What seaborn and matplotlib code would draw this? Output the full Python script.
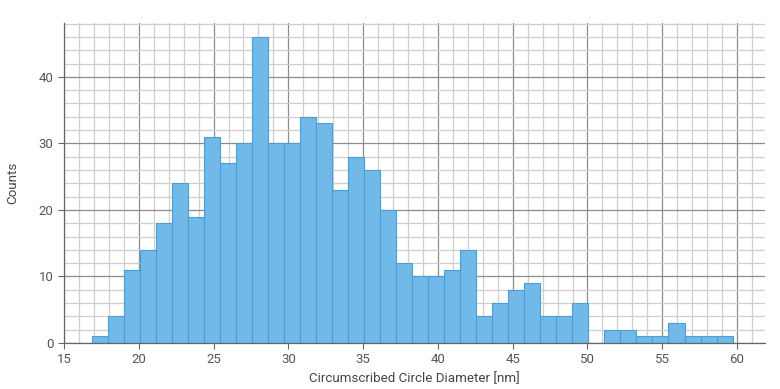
import numpy as np
import pandas as pd
import matplotlib
matplotlib.use("Agg")
import matplotlib.pyplot as plt
from matplotlib.ticker import MultipleLocator
import seaborn as sns

# histogram: 40 bins from 16.87 to 59.70 nm
bin_lo = 16.87
bin_hi = 59.70
counts = [1, 4, 11, 14, 18, 24, 19, 31, 27, 30,
          46, 30, 30, 34, 33, 23, 28, 26, 20, 12,
          10, 10, 11, 14, 4, 6, 8, 9, 4, 4,
          6, 0, 2, 2, 1, 1, 3, 1, 1, 1]

x_label = "Circumscribed Circle Diameter [nm]"
y_label = "Counts"

edges = np.linspace(bin_lo, bin_hi, len(counts) + 1)
centers = (edges[:-1] + edges[1:]) / 2
df = pd.DataFrame({"diameter": centers, "count": counts})

sns.set_theme(style="white")
plt.rcParams["font.family"] = ["Roboto", "DejaVu Sans"]

fig = plt.figure(figsize=(7.8, 3.89), dpi=100)
ax = fig.add_axes([64 / 780, 1 - 343 / 389, (765 - 64) / 780, (343 - 23) / 389])

sns.histplot(data=df, x="diameter", weights="count", bins=edges.tolist(), ax=ax,
             color="#70b9e9", edgecolor="#4a9fd8", linewidth=0.8, alpha=1.0)

ax.set_xlim(15, 61.87)
ax.set_ylim(0, 48.1)
ax.xaxis.set_major_locator(MultipleLocator(5))
ax.xaxis.set_minor_locator(MultipleLocator(1))
ax.yaxis.set_major_locator(MultipleLocator(10))
ax.yaxis.set_minor_locator(MultipleLocator(2))

ax.set_axisbelow(True)
ax.grid(which="major", color="#8c8c8c", linewidth=0.9)
ax.grid(which="minor", color="#cfcfcf", linewidth=0.9)

for s in ["top", "right"]:
    ax.spines[s].set_visible(False)
for s in ["left", "bottom"]:
    ax.spines[s].set_color("#666666")
    ax.spines[s].set_linewidth(0.9)

ax.tick_params(which="major", direction="out", length=4, width=0.8, color="#666666",
               labelsize=9.5, labelcolor="#555555", bottom=True, left=True)
ax.tick_params(which="minor", length=0)

ax.set_xlabel(x_label, fontsize=9.6, color="#444444", labelpad=4)
ax.set_ylabel(y_label, fontsize=9.6, color="#444444", labelpad=14)

fig.savefig("out.png", dpi=100)
